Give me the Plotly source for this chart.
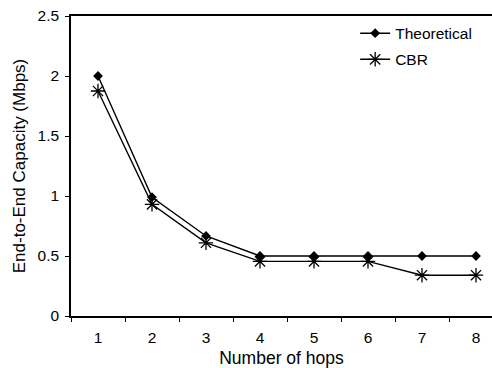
import plotly.graph_objects as go

hops = [1, 2, 3, 4, 5, 6, 7, 8]
theoretical = [2.0, 0.99, 0.667, 0.5, 0.5, 0.5, 0.5, 0.5]
cbr = [1.875, 0.93, 0.61, 0.455, 0.455, 0.455, 0.34, 0.34]
y_ticks = [0, 0.5, 1, 1.5, 2, 2.5]
y_tick_text = ["0", "0.5", "1", "1.5", "2", "2.5"]

fig = go.Figure()
fig.add_trace(go.Scatter(
    x=hops, y=theoretical, name="Theoretical", mode="lines+markers",
    legendgroup="a",
    line=dict(color="black", width=1.4),
    marker=dict(symbol="diamond", size=7.5, color="black"),
))
fig.add_trace(go.Scatter(
    x=hops, y=cbr, name="CBR", mode="lines+markers",
    legendgroup="b",
    line=dict(color="black", width=1.4),
    marker=dict(symbol="asterisk-open", size=12, color="black",
                line=dict(color="black", width=1.3)),
))

font = "Liberation Sans, Arial, sans-serif"
fig.update_layout(
    width=492, height=368,
    margin=dict(l=71, r=0, t=16, b=52),
    paper_bgcolor="white", plot_bgcolor="white",
    font=dict(family=font, size=15.5, color="black"),
    showlegend=True,
    legend=dict(x=0.675, y=0.998, xanchor="left", yanchor="top",
                bgcolor="rgba(0,0,0,0)", font=dict(size=15.5),
                traceorder="grouped", tracegroupgap=3, itemwidth=30),
)
fig.update_xaxes(
    range=[0.5, 0.5 + (492 - 71) / 54.0],
    tickmode="array", tickvals=hops, ticktext=[str(h) for h in hops],
    ticks="", showline=True, linecolor="black", linewidth=1.5,
    mirror=True, showgrid=False, zeroline=False,
    title=dict(text="Number of hops", font=dict(size=17.5), standoff=7),
    tickfont=dict(size=15.5), ticklabelstandoff=7,
)
fig.update_xaxes(minor=dict(tickvals=[h + 0.5 for h in [0] + hops], ticks="outside",
                            ticklen=4, tickcolor="black", tickwidth=1))
fig.update_yaxes(
    range=[0, 2.5], tickmode="array", tickvals=y_ticks, ticktext=y_tick_text,
    ticks="outside", ticklen=4, tickcolor="black", tickwidth=1,
    showline=True, linecolor="black", linewidth=1.5, showgrid=False,
    zeroline=False,
    title=dict(text="End-to-End Capacity (Mbps)", font=dict(size=17), standoff=8),
    tickfont=dict(size=15.5), ticklabelstandoff=3,
)

fig.write_html("out.html")
